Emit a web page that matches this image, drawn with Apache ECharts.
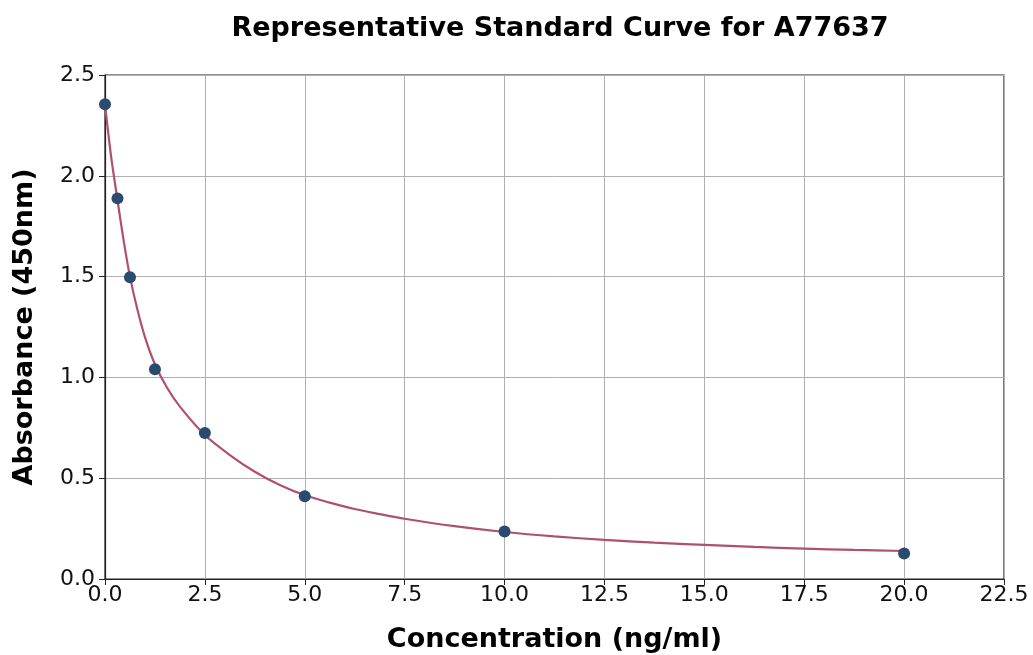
<!DOCTYPE html>
<html><head><meta charset="utf-8">
<script src="https://cdn.jsdelivr.net/npm/echarts@6/dist/echarts.min.js"></script>
<style>html,body{margin:0;padding:0;background:#fff}#c{width:1033px;height:655px}</style>
</head><body><div id="c"></div>
<script>
var titleText = 'Representative Standard Curve for A77637';
var xName = 'Concentration (ng/ml)';
var yName = 'Absorbance (450nm)';
var concentrations = [0, 0.3125, 0.625, 1.25, 2.5, 5, 10, 20];
var absorbances = [2.355, 1.888, 1.497, 1.040, 0.724, 0.410, 0.236, 0.126];
var curveX = [0, 0.15, 0.3125, 0.47, 0.625, 0.8, 1.0, 1.25, 1.55, 1.875, 2.5, 3.125, 3.75, 4.375, 5, 5.625, 6.25, 6.875, 7.5, 8.75, 10, 11.25, 12.5, 13.75, 15, 16.25, 17.5, 18.75, 20];
var curveY = [2.355, 2.10, 1.88, 1.675, 1.50, 1.345, 1.20, 1.065, 0.95, 0.855, 0.714, 0.615, 0.532, 0.466, 0.415, 0.379, 0.347, 0.322, 0.299, 0.262, 0.233, 0.211, 0.194, 0.180, 0.169, 0.159, 0.151, 0.144, 0.139];

var chart = echarts.init(document.getElementById('c'));
var font = 'DejaVu Sans';
chart.setOption({
  animation: false,
  title: {text: titleText, left: 555, textAlign: 'center', top: 10,
    textStyle: {fontFamily: font, fontWeight: 'bold', fontSize: 27, color: '#000'}},
  grid: {left: 105, right: 29, top: 75, bottom: 76, show: true, borderColor: '#222', borderWidth: 1.2,
    containLabel: false, outerBoundsMode: 'none'},
  xAxis: {type: 'value', min: 0, max: 22.5, interval: 2.5,
    name: xName, nameLocation: 'middle', nameGap: 47,
    nameTextStyle: {fontFamily: font, fontWeight: 'bold', fontSize: 27, color: '#000'},
    axisLine: {show: true, onZero: false, lineStyle: {color: '#222', width: 1.2}},
    axisTick: {show: true, length: 6, lineStyle: {color: '#222'}},
    axisLabel: {fontFamily: font, fontSize: 22, color: '#111', margin: 5, formatter: function(v){return v.toFixed(1);}},
    splitLine: {show: true, lineStyle: {color: '#b0b0b0', width: 1}}},
  yAxis: {type: 'value', min: 0, max: 2.5, interval: 0.5,
    name: yName, nameLocation: 'middle', nameGap: 67,
    nameTextStyle: {fontFamily: font, fontWeight: 'bold', fontSize: 27, color: '#000'},
    axisLine: {show: true, onZero: false, lineStyle: {color: '#222', width: 1.2}},
    axisTick: {show: true, length: 6, lineStyle: {color: '#222'}},
    axisLabel: {fontFamily: font, fontSize: 22, color: '#111', margin: 10, formatter: function(v){return v.toFixed(1);}},
    splitLine: {show: true, lineStyle: {color: '#b0b0b0', width: 1}}},
  series: [
    {type: 'line', data: curveX.map(function(x,i){return [x, curveY[i]];}), smooth: 0.3,
      showSymbol: false, lineStyle: {color: '#b05070', width: 2.2}, z: 2},
    {type: 'scatter', data: concentrations.map(function(x,i){return [x, absorbances[i]];}),
      symbolSize: 12, itemStyle: {color: '#2a4a6e', opacity: 1}, z: 3}
  ]
});
</script></body></html>
